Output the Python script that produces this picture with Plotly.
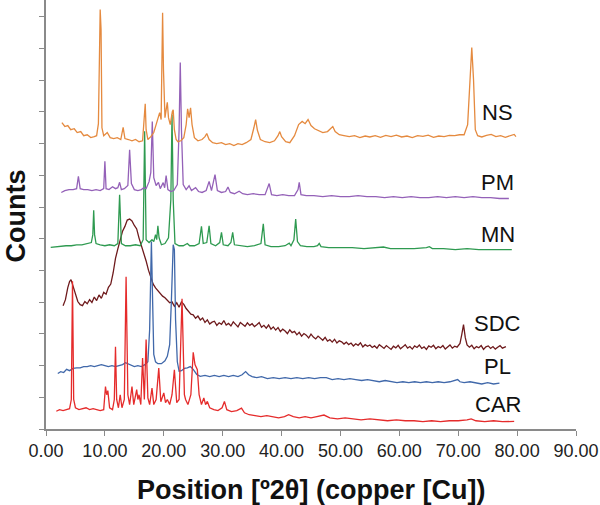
import plotly.graph_objects as go

# ---------------- data (2theta in degrees, stacked counts in tick units) ----------------
ns_x = [2.7,3.2,3.7,4.2,4.8,5.3,5.9,6.4,7.0,7.6,8.2,8.6,8.9,9.1,9.2,9.35,9.5,9.8,10.4,10.9,11.5,12.1,12.7,13.1,13.4,
        14.0,14.6,15.2,15.8,16.4,16.7,16.85,17.0,17.3,17.8,18.3,18.7,19.0,19.3,19.55,19.7,19.8,19.95,20.2,20.45,20.6,
        20.8,21.1,21.45,21.6,21.8,22.1,22.4,22.9,23.4,23.8,24.05,24.3,24.55,24.8,25.2,25.8,26.5,27.0,27.3,27.7,28.3,
        29.0,29.8,30.5,31.2,31.9,32.6,33.3,34.0,34.8,35.3,35.6,35.9,36.4,37.2,38.0,38.8,39.4,39.7,40.0,40.7,41.4,42.2,
        42.9,43.5,44.0,44.5,45.0,45.6,46.3,47.0,47.8,48.4,48.7,49.1,49.8,50.6,51.5,52.4,53.3,54.2,55.0,55.9,56.8,57.7,
        58.6,59.5,60.4,61.3,62.2,63.1,64.0,64.9,65.8,66.7,67.6,68.5,69.4,70.2,71.0,71.6,72.0,72.3,72.6,72.9,73.3,74.0,
        74.8,75.6,76.4,77.2,78.0,78.8,79.5,79.8]
ns_y = [9.66,9.54,9.57,9.44,9.47,9.35,9.38,9.25,9.28,9.19,9.22,9.25,9.63,12.28,13.23,12.60,9.50,9.25,9.35,9.19,9.16,9.19,9.13,9.51,9.16,
        9.13,9.09,9.13,9.06,9.09,9.76,10.26,9.44,9.13,9.22,9.35,9.60,9.82,9.98,9.76,11.65,13.13,11.33,9.82,10.13,10.30,
        9.82,9.60,10.01,10.07,9.44,9.13,9.06,9.09,9.19,9.60,10.10,9.82,10.13,9.60,9.19,9.09,9.13,9.22,9.32,9.13,9.03,
        9.00,9.03,8.97,9.00,8.94,9.00,8.97,9.03,9.13,9.50,9.76,9.42,9.13,9.06,9.03,9.09,9.25,9.38,9.22,9.06,9.03,9.25,
        9.60,9.70,9.63,9.76,9.57,9.47,9.42,9.35,9.38,9.47,9.54,9.38,9.28,9.25,9.22,9.25,9.19,9.24,9.21,9.25,9.20,9.26,
        9.22,9.27,9.21,9.24,9.19,9.25,9.23,9.27,9.20,9.24,9.22,9.26,9.25,9.28,9.28,9.60,11.02,12.03,11.02,9.44,9.25,9.21,
        9.26,9.29,9.22,9.25,9.20,9.26,9.29,9.22]

pm_x = [2.6,3.2,3.9,4.6,5.2,5.5,5.8,6.4,7.1,7.8,8.5,9.2,9.8,10.0,10.2,10.7,11.3,11.8,12.2,12.5,12.8,13.3,13.9,14.2,14.5,
        15.0,15.6,16.2,16.6,17.0,17.5,17.8,18.05,18.3,18.7,19.1,19.4,19.9,20.15,20.4,20.7,21.2,21.7,22.3,22.6,22.8,23.0,
        23.3,23.8,24.3,24.7,25.4,25.9,26.5,27.2,27.7,28.1,28.7,29.1,29.8,30.5,30.9,31.3,32.0,32.8,33.4,34.2,35.2,36.2,
        37.2,37.9,38.3,39.2,40.2,41.2,42.2,42.8,43.0,43.3,44.2,45.5,47.0,48.5,50.0,51.5,53.0,54.5,56.0,57.5,59.0,60.5,
        62.0,63.5,65.0,66.5,68.0,69.5,71.0,72.5,74.0,75.5,77.0,78.6]
pm_y = [7.46,7.52,7.55,7.55,7.58,7.97,7.58,7.55,7.55,7.52,7.55,7.52,7.58,8.44,7.58,7.55,7.64,7.58,7.61,7.78,7.55,7.58,7.68,8.81,7.74,
        7.55,7.52,7.55,7.61,7.58,7.80,8.09,9.70,7.93,7.68,7.78,7.58,7.77,7.61,7.99,7.55,7.49,7.52,7.71,9.44,11.56,9.44,
        7.71,7.55,7.67,7.52,7.61,7.49,7.46,7.52,7.81,7.52,8.02,7.52,7.46,7.49,7.63,7.46,7.42,7.50,7.42,7.39,7.42,7.39,
        7.39,7.74,7.39,7.36,7.39,7.36,7.36,7.55,7.78,7.39,7.36,7.36,7.33,7.36,7.33,7.33,7.36,7.33,7.33,7.30,7.33,7.30,
        7.33,7.30,7.30,7.33,7.30,7.33,7.30,7.33,7.30,7.30,7.27,7.27]

mn_x = [0.8,1.6,2.5,3.4,4.3,5.2,6.1,7.0,7.7,7.95,8.1,8.25,8.5,9.2,10.0,10.8,11.6,12.2,12.5,12.8,13.5,14.3,15.2,16.0,16.5,
        16.75,17.0,17.5,18.0,18.3,18.6,18.8,19.0,19.2,19.6,20.2,20.8,21.2,21.4,21.6,21.9,22.6,23.3,24.0,24.4,25.2,26.0,
        26.4,26.7,27.3,27.7,28.0,28.8,29.5,29.8,30.1,30.9,31.4,31.7,32.0,33.0,34.2,35.4,36.5,36.9,37.2,38.2,39.5,40.6,
        41.3,41.6,42.1,42.4,42.7,43.2,44.3,45.5,46.1,46.4,46.7,48.0,50.0,52.0,54.0,56.0,57.3,58.5,60.5,62.5,64.6,65.1,
        65.6,67.5,69.5,71.5,73.5,75.5,77.5,79.1]
mn_y = [5.73,5.75,5.75,5.78,5.78,5.81,5.81,5.85,5.88,6.13,6.90,6.13,5.85,5.81,5.78,5.81,5.78,5.85,7.39,5.85,5.78,5.78,5.81,5.78,5.97,
        9.39,5.97,5.88,5.97,5.91,6.13,5.97,6.41,6.03,5.81,5.85,6.03,7.24,9.92,7.24,5.85,5.78,5.78,5.85,5.78,5.78,5.85,
        6.39,5.85,5.88,6.41,5.85,5.78,5.88,6.20,5.81,5.78,5.88,6.20,5.81,5.78,5.75,5.78,5.85,6.47,5.81,5.75,5.75,5.78,
        5.86,5.78,5.97,6.62,5.91,5.78,5.75,5.75,5.78,5.85,5.75,5.72,5.72,5.72,5.69,5.72,5.74,5.69,5.69,5.69,5.72,5.75,
        5.69,5.69,5.66,5.69,5.66,5.66,5.66,5.66]

sdc_x = [2.9,3.3,3.7,4.0,4.25,4.6,5.0,5.4,5.8,6.2,6.6,7.0,7.4,7.8,8.2,8.6,9.0,9.4,9.8,10.2,10.6,11.0,11.4,11.8,12.2,12.6,
         13.0,13.4,13.8,14.2,14.6,15.0,15.4,15.8,16.2,16.6,17.0,17.4,17.8,18.2,18.6,19.0,19.4,19.8,20.2,20.6,21.0,21.4,
         21.8,22.2,22.6,23.0,23.4,23.8,24.2,24.6,25.0,25.4,25.8,26.2,26.6,27.0,27.4,27.8,28.2,28.6,29.0,29.4,29.8,30.2,
         30.6,31.0,31.4,31.8,32.2,32.6,33.0,33.4,33.8,34.2,34.6,35.0,35.4,35.8,36.2,36.6,37.0,37.4,37.8,38.2,38.6,39.0,
         39.4,39.8,40.2,40.6,41.0,41.4,41.8,42.2,42.6,43.0,43.4,43.8,44.2,44.6,45.0,45.4,45.8,46.2,46.6,47.0,47.4,47.8,
         48.2,48.6,49.0,49.4,49.8,50.2,50.6,51.0,51.4,51.8,52.2,52.6,53.0,53.4,53.8,54.2,54.6,55.0,55.4,55.8,56.2,56.6,
         57.0,57.4,57.8,58.2,58.6,59.0,59.4,59.8,60.2,60.6,61.0,61.4,61.8,62.2,62.6,63.0,63.4,63.8,64.2,64.6,65.0,65.4,
         65.8,66.2,66.6,67.0,67.4,67.8,68.2,68.6,69.0,69.4,69.8,70.3,70.6,70.9,71.2,71.5,71.9,72.3,72.7,73.1,73.5,73.9,
         74.3,74.7,75.1,75.5,75.9,76.3,76.7,77.1,77.5,77.9,78.1]
sdc_y = [3.89,4.08,4.46,4.65,4.71,4.52,4.24,4.02,3.92,3.89,4.02,3.95,4.08,3.99,4.16,4.05,4.23,4.12,4.31,4.25,4.47,4.57,4.92,5.38,5.68,5.95,
         6.24,6.39,6.59,6.62,6.56,6.42,6.31,6.02,5.80,5.51,5.30,5.01,4.80,4.57,4.45,4.35,4.26,4.19,4.14,4.06,3.98,4.01,
         3.87,3.98,3.84,
         4.01,3.93,3.80,3.70,3.62,3.60,3.49,3.56,3.44,3.50,
         3.36,3.44,3.31,3.37,3.40,3.27,3.35,3.30,3.42,3.28,
         3.33,3.25,3.38,3.30,3.22,3.36,3.31,3.24,3.35,3.27,
         3.32,3.23,3.29,3.36,3.21,3.27,3.18,3.28,3.15,3.22,
         3.12,3.20,3.07,3.15,3.09,3.01,3.13,3.04,3.08,2.97,
         3.05,2.93,3.01,2.96,2.87,2.99,2.90,2.84,2.93,2.86,
         2.80,2.89,2.77,2.82,2.74,2.83,2.71,2.78,2.75,2.68,
         2.74,2.66,2.71,2.62,2.69,2.64,2.72,2.59,2.66,2.61,
         2.65,2.57,2.62,2.55,2.66,2.60,2.54,2.63,2.58,2.51,
         2.61,2.56,2.64,2.53,2.59,2.66,2.55,2.60,2.52,2.62,
         2.57,2.65,2.54,2.59,2.51,2.62,2.58,2.64,2.53,2.60,
         2.56,2.63,2.52,2.59,2.65,2.55,2.61,2.58,
         2.70,2.98,3.29,2.88,2.65,
         2.58,2.64,2.53,2.60,2.56,2.63,2.51,2.59,2.62,2.54,2.60,2.52,2.58,2.63,2.55,2.57,
         2.60]

pl_x = [2.0,2.5,3.0,3.5,4.0,4.6,5.2,5.8,6.4,7.0,7.6,8.2,8.8,9.4,10.0,10.6,11.2,11.8,12.4,13.0,13.5,13.9,14.4,15.0,15.6,16.2,
        16.8,17.3,17.6,17.8,17.9,18.1,18.3,18.6,19.0,19.6,20.2,20.6,21.0,21.3,21.6,21.8,22.0,22.3,22.6,23.0,23.5,24.0,
        24.5,25.0,25.6,26.2,27.0,27.8,28.6,29.4,30.2,31.0,31.8,32.6,33.3,33.9,34.4,35.0,35.8,36.6,37.6,38.6,39.6,40.6,
        41.6,42.6,43.6,44.6,45.6,46.6,47.6,48.6,49.6,50.6,51.6,52.6,53.6,54.6,55.6,56.6,57.6,58.6,59.6,60.6,61.6,62.6,
        63.6,64.6,65.6,66.6,67.6,68.6,69.6,69.9,70.3,71.0,72.0,73.0,74.0,75.0,76.0,77.0]
pl_y = [1.75,1.81,1.78,1.88,1.84,1.91,1.93,1.93,1.97,1.97,2.00,1.97,2.00,2.03,2.00,1.97,2.00,1.97,2.00,2.03,2.09,2.06,2.00,1.97,2.00,1.97,
        2.03,2.12,3.13,5.81,5.91,4.08,2.35,2.12,2.06,2.06,2.15,2.29,2.66,4.08,5.81,5.66,3.45,2.12,1.82,1.84,1.91,1.93,
        1.97,1.88,1.72,1.66,1.69,1.65,1.69,1.65,1.69,1.65,1.69,1.65,1.71,1.81,1.71,1.65,1.62,1.65,1.59,1.62,1.59,1.62,
        1.59,1.62,1.59,1.62,1.59,1.62,1.62,1.56,1.59,1.56,1.59,1.56,1.53,1.56,1.53,1.49,1.53,1.49,1.46,1.49,1.46,1.49,
        1.46,1.49,1.46,1.49,1.46,1.49,1.53,1.56,1.49,1.46,1.49,1.46,1.42,1.46,1.42,1.45]

car_x = [1.75,2.3,2.9,3.5,4.0,4.3,4.5,4.7,5.0,5.6,6.2,6.8,7.4,8.0,8.6,9.2,9.8,10.1,10.3,10.5,10.8,11.3,11.6,11.8,12.0,12.3,
         12.6,12.9,13.3,13.6,13.9,14.2,14.6,14.9,15.4,15.6,15.8,16.1,16.4,16.7,17.0,17.3,17.6,18.0,18.3,18.7,19.15,19.5,
         20.0,20.3,20.6,21.0,21.4,21.8,22.2,22.6,23.1,23.5,23.7,24.1,24.6,25.0,25.3,25.7,26.0,26.4,26.8,27.1,27.4,27.8,
         28.5,29.2,29.9,30.3,30.7,31.5,32.4,33.2,33.7,34.5,35.5,36.5,37.5,38.5,39.5,40.5,41.2,42.0,43.0,44.0,45.0,46.0,
         47.2,48.2,49.5,50.8,52.0,53.5,55.0,56.5,58.0,59.5,61.0,62.5,64.0,65.5,67.0,68.5,70.0,71.5,72.2,73.0,74.5,76.0,
         77.5,79.5]
car_y = [0.56,0.61,0.58,0.61,0.64,0.93,4.66,0.93,0.67,0.61,0.64,0.67,0.61,0.64,0.61,0.58,0.61,1.34,1.08,1.21,0.67,0.61,0.93,2.59,0.93,0.67,
         1.08,0.67,0.93,4.80,1.08,0.77,1.34,0.77,1.24,0.93,1.08,0.77,2.24,0.93,2.82,0.98,0.77,1.29,0.77,0.93,1.92,0.86,
         1.14,0.83,0.93,0.77,1.08,1.87,0.83,0.93,4.11,1.08,0.93,0.77,1.08,2.42,2.03,1.87,1.08,0.77,0.98,0.77,0.87,0.67,
         0.61,0.58,0.67,0.87,0.61,0.55,0.58,0.66,0.51,0.45,0.42,0.39,0.42,0.39,0.35,0.39,0.45,0.39,0.35,0.39,0.35,0.39,
         0.44,0.35,0.32,0.35,0.32,0.29,0.32,0.29,0.26,0.29,0.26,0.26,0.23,0.26,0.23,0.26,0.26,0.29,0.32,0.26,0.23,0.26,
         0.23,0.24]

labels = ["NS", "PM", "MN", "SDC", "PL", "CAR"]
label_y = [9.97, 7.78, 6.13, 3.34, 1.97, 0.77]
label_x = 76.75
x_ticks = [0, 10, 20, 30, 40, 50, 60, 70, 80, 90]

# ---------------- figure ----------------
series = [
    ("SDC", sdc_x, sdc_y, "#6e1a1c"),
    ("PL", pl_x, pl_y, "#4068aa"),
    ("CAR", car_x, car_y, "#e52b2b"),
    ("MN", mn_x, mn_y, "#2e9a50"),
    ("PM", pm_x, pm_y, "#9461b8"),
    ("NS", ns_x, ns_y, "#e58a3f"),
]

fig = go.Figure()
for name, xs, ys, col in series:
    fig.add_trace(go.Scatter(x=xs, y=ys, mode="lines", name=name,
                             line=dict(color=col, width=1.3), showlegend=False))

for lab, ly in zip(labels, label_y):
    fig.add_annotation(x=label_x, y=ly, text=lab, showarrow=False,
                       xanchor="center", yanchor="middle",
                       font=dict(size=22, color="#111111"))

fig.add_annotation(xref="paper", yref="paper", x=-0.057, y=0.497, text="<b>Counts</b>",
                   textangle=-90, showarrow=False, xanchor="center", yanchor="middle",
                   font=dict(size=27, color="#111111"))
fig.add_annotation(xref="paper", yref="paper", x=0.5, y=-0.143,
                   text="<b>Position [º2θ] (copper [Cu])</b>",
                   showarrow=False, xanchor="center", yanchor="middle",
                   font=dict(size=27, color="#111111"))

fig.update_layout(
    width=600, height=505,
    margin=dict(l=46, r=24, t=0, b=76),
    paper_bgcolor="white", plot_bgcolor="white",
    font=dict(family="Liberation Sans, Arial, sans-serif", color="#222222"),
    xaxis=dict(range=[0, 90], tickvals=x_ticks, tickformat=".2f",
               ticks="outside", ticklen=5, tickcolor="#8a8a8a", tickwidth=1.2,
               showline=True, linecolor="#8a8a8a", linewidth=1.5,
               showgrid=False, zeroline=False,
               tickfont=dict(size=18, color="#222222")),
    yaxis=dict(range=[0, 13.53], tickvals=list(range(0, 14)), showticklabels=False,
               ticks="outside", ticklen=5, tickcolor="#8a8a8a", tickwidth=1.2,
               showline=True, linecolor="#8a8a8a", linewidth=1.5,
               showgrid=False, zeroline=False),
)

fig.write_html("out.html", config={"displayModeBar": False},
               post_script="document.body.style.margin='0';")
